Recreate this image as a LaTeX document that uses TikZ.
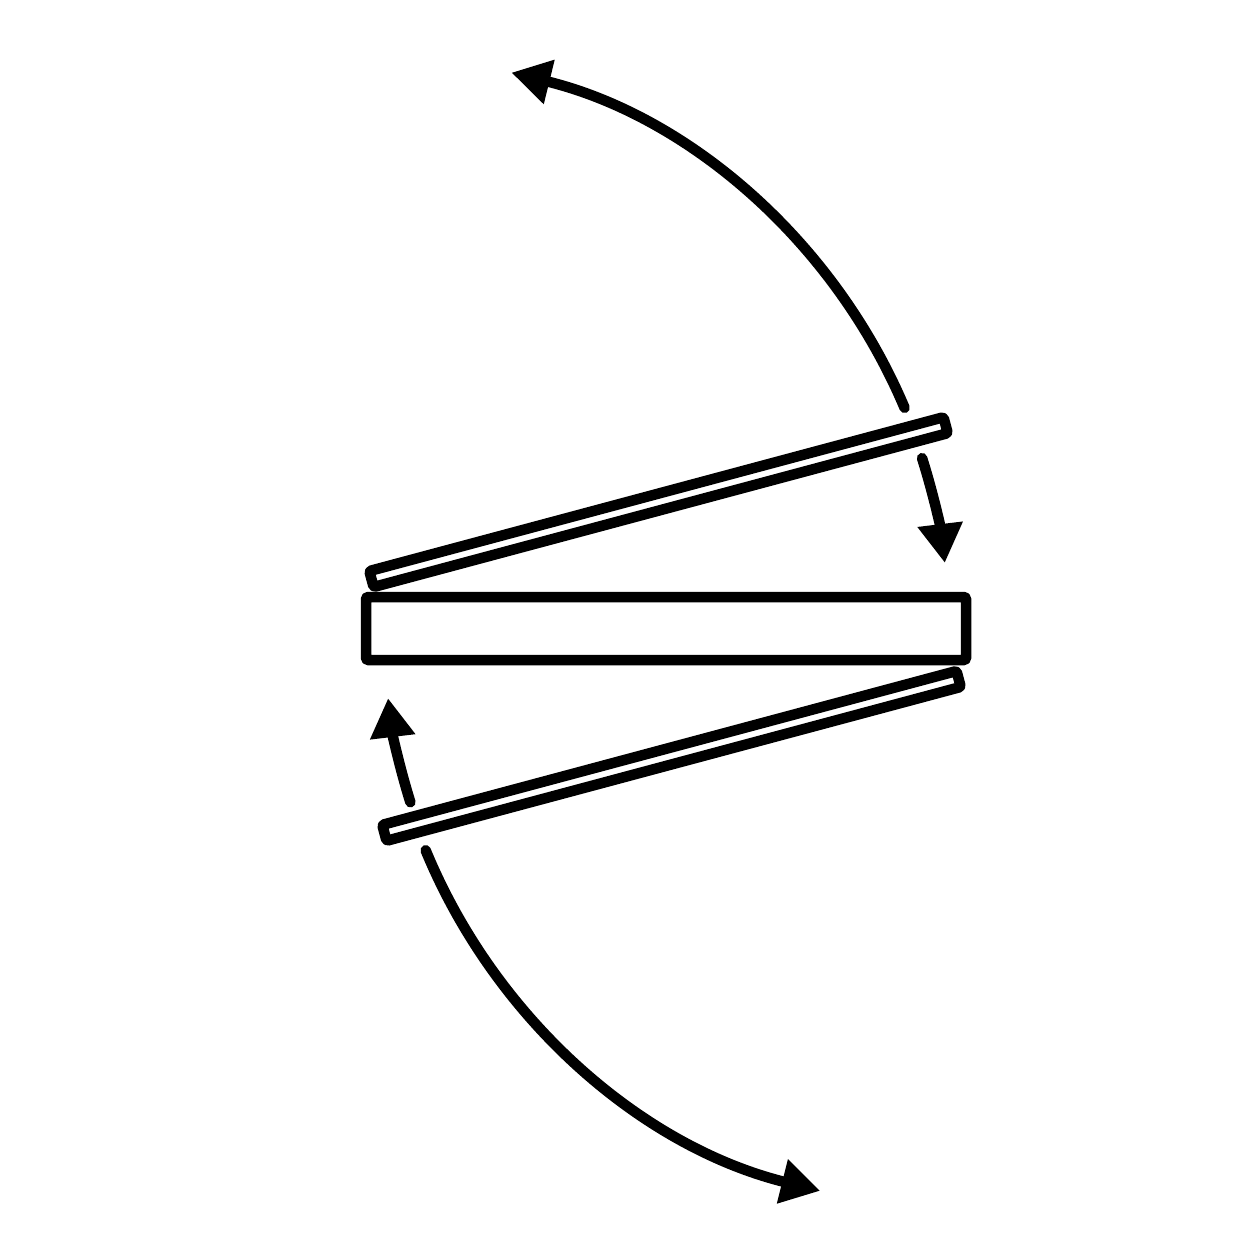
\documentclass[tikz,border=0pt]{standalone}
\usetikzlibrary{arrows.meta,calc}
\begin{document}
\begin{tikzpicture}[x=0.02cm,y=-0.02cm,
  outline/.style={line width=0.21cm, line join=round, rounded corners=0.8pt},
  swing/.style={line width=0.21cm, line cap=round, -{Triangle[length=0.78cm,width=0.86cm]}}]
\useasboundingbox (0,0) rectangle (1250,1250);
% central board
\draw[outline] (366,597) rectangle (966,660);
% upper tilted panel
\draw[outline, rotate around={15:(373.6,587)}] (373.6,570.5) rectangle (968,587);
% lower tilted panel
\draw[outline, rotate around={15:(956.5,671)}] (362,671) rectangle (956.5,687.5);
% pivots for the swing arcs
\coordinate (cu) at (374,632);
\coordinate (cl) at (960,630);
% upper arcs
\draw[swing] ($(cu)+(-22.9:576)$) arc[start angle=-22.9, end angle=-76.2, radius=576];
\draw[swing] ($(cu)+(-17.6:575)$) arc[start angle=-17.6, end angle=-6.9, radius=575];
% lower arcs
\draw[swing] ($(cl)+(157.6:578)$) arc[start angle=157.6, end angle=104.0, radius=578];
\draw[swing] ($(cl)+(162.6:576)$) arc[start angle=162.6, end angle=173.2, radius=576];
\end{tikzpicture}
\end{document}
